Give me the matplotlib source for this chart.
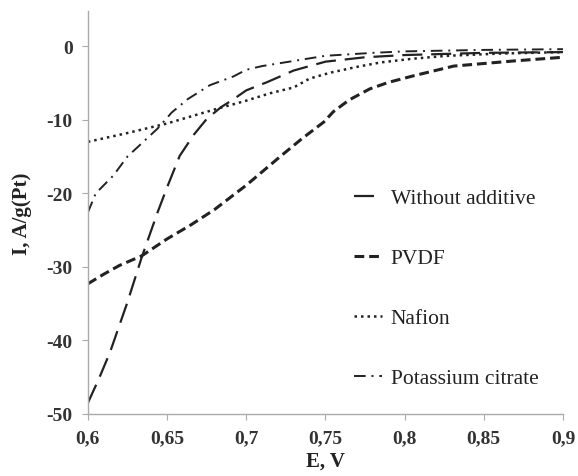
import numpy as np
import matplotlib.pyplot as plt

plt.rcParams['font.family'] = ['Liberation Serif', 'DejaVu Serif']

# potential, V
e_wo = [0.600, 0.607, 0.614, 0.625, 0.634, 0.644, 0.650, 0.658, 0.667, 0.675, 0.684, 0.692, 0.700,
        0.713, 0.730, 0.750, 0.775, 0.800, 0.850, 0.900]
i_wo = [-48.5, -45.2, -41.6, -34.8, -28.7, -22.6, -19.2, -14.9, -12.0, -9.9, -8.3, -7.2, -6.0,
        -4.9, -3.3, -2.1, -1.5, -1.2, -0.9, -0.8]

e_pvdf = [0.600, 0.610, 0.620, 0.634, 0.650, 0.665, 0.680, 0.700, 0.722, 0.735, 0.749, 0.755,
          0.765, 0.778, 0.790, 0.806, 0.831, 0.869, 0.900]
i_pvdf = [-32.3, -31.0, -29.8, -28.5, -26.2, -24.3, -22.2, -18.9, -14.9, -12.6, -10.3, -8.9,
          -7.3, -5.8, -4.9, -4.0, -2.7, -2.0, -1.5]

e_naf = [0.600, 0.625, 0.650, 0.680, 0.700, 0.715, 0.730, 0.740, 0.753, 0.770, 0.785, 0.805,
         0.827, 0.860, 0.900]
i_naf = [-13.0, -11.8, -10.5, -8.6, -7.4, -6.4, -5.6, -4.4, -3.6, -2.8, -2.2, -1.7,
         -1.3, -1.0, -0.8]

e_cit = [0.600, 0.605, 0.616, 0.625, 0.635, 0.644, 0.653, 0.663, 0.677, 0.692, 0.700, 0.710,
         0.730, 0.750, 0.780, 0.800, 0.850, 0.900]
i_cit = [-22.6, -20.0, -17.6, -15.0, -13.0, -11.2, -9.0, -7.2, -5.3, -4.1, -3.2, -2.7,
         -2.0, -1.3, -0.9, -0.7, -0.5, -0.4]

x_ticks = [0.6, 0.65, 0.7, 0.75, 0.8, 0.85, 0.9]
x_labels = ['0,6', '0,65', '0,7', '0,75', '0,8', '0,85', '0,9']
y_ticks = [0, -10, -20, -30, -40, -50]

fig = plt.figure(figsize=(5.78, 4.77), dpi=100)
ax = fig.add_axes([0.152, 0.130, 0.822, 0.845])

ax.plot(e_wo, i_wo, color='#222222', lw=1.6, dashes=(9, 4), label='Without additive')
ax.plot(e_pvdf, i_pvdf, color='#222222', lw=2.2, dashes=(3.2, 1.6), label='PVDF')
ax.plot(e_naf, i_naf, color='#222222', lw=1.8, dashes=(1, 1.6), label='Nafion')
ax.plot(e_cit, i_cit, color='#222222', lw=1.4, dashes=(6, 3, 1, 3), label='Potassium citrate')

ax.set_xlim(0.6, 0.9)
ax.set_ylim(-50, 4.8)
ax.set_xticks(x_ticks)
ax.set_xticklabels(x_labels)
ax.set_yticks(y_ticks)
ax.set_yticklabels([str(v) for v in y_ticks])

for side in ['top', 'right']:
    ax.spines[side].set_visible(False)
for side in ['left', 'bottom']:
    ax.spines[side].set_color('#aaaaaa')
    ax.spines[side].set_linewidth(1.0)
ax.tick_params(direction='out', length=4, color='#aaaaaa', labelsize=14, pad=7)
for lbl in ax.get_xticklabels() + ax.get_yticklabels():
    lbl.set_fontweight('bold')
    lbl.set_color('#333333')

ax.set_xlabel('E, V', fontsize=15, fontweight='bold', color='#222222', labelpad=3)
ax.set_ylabel('I, A/g(Pt)', fontsize=15, fontweight='bold', color='#222222', labelpad=10)

ax.legend(loc='upper left', bbox_to_anchor=(0.52, 0.608), frameon=False, fontsize=15.5,
          handlelength=1.3, handletextpad=0.4, labelspacing=1.85, labelcolor='#222222')

fig.savefig('out.png', dpi=100)
